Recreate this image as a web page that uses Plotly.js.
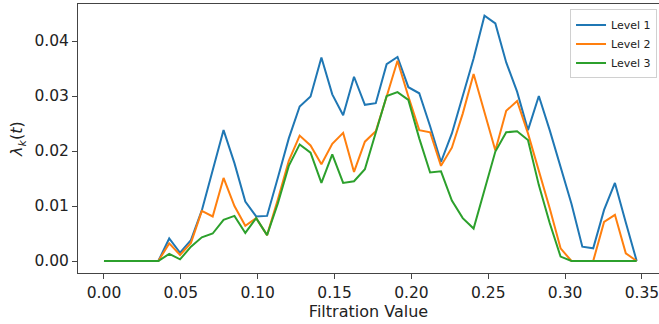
<!DOCTYPE html>
<html>
<head>
<meta charset="utf-8">
<script src="https://cdn.plot.ly/plotly-3.0.1.min.js"></script>
<style>html,body{margin:0;padding:0;background:#fff;}#chart{width:659px;height:324px;}</style>
</head>
<body>
<div id="chart"></div>
<script>
const filtration = [0, 0.00707, 0.01415, 0.02122, 0.02829, 0.03537, 0.04244, 0.04951, 0.05658, 0.06366,
  0.07073, 0.0778, 0.08488, 0.09195, 0.09902, 0.1061, 0.11317, 0.12024, 0.12731, 0.13439,
  0.14146, 0.14853, 0.15561, 0.16268, 0.16975, 0.17683, 0.1839, 0.19097, 0.19804, 0.20512,
  0.21219, 0.21926, 0.22634, 0.23341, 0.24048, 0.24756, 0.25463, 0.2617, 0.26877, 0.27585,
  0.28292, 0.28999, 0.29707, 0.30414, 0.31121, 0.31829, 0.32536, 0.33243, 0.3395, 0.34658];

const level1 = [0, 0, 0, 0, 0, 0, 0.0041, 0.0015, 0.0038, 0.0092,
  0.0165, 0.0238, 0.0178, 0.0108, 0.0081, 0.0082, 0.0152, 0.0223, 0.0281, 0.0299,
  0.0370, 0.0303, 0.0265, 0.0335, 0.0284, 0.0287, 0.0358, 0.0371, 0.0316, 0.0305,
  0.0245, 0.0180, 0.0232, 0.0300, 0.0368, 0.0446, 0.0432, 0.0361, 0.0308, 0.0238,
  0.0300, 0.0238, 0.0173, 0.0104, 0.0026, 0.0023, 0.0093, 0.0142, 0.0070, 0];

const level2 = [0, 0, 0, 0, 0, 0, 0.0032, 0.0011, 0.0033, 0.0091,
  0.0081, 0.0151, 0.0100, 0.0064, 0.0078, 0.0047, 0.0112, 0.0182, 0.0228, 0.0210,
  0.0176, 0.0213, 0.0233, 0.0162, 0.0217, 0.0236, 0.0299, 0.0364, 0.0299, 0.0238,
  0.0234, 0.0173, 0.0206, 0.0268, 0.0340, 0.0272, 0.0201, 0.0273, 0.0291, 0.0232,
  0.0165, 0.0096, 0.0023, 0, 0, 0, 0.0071, 0.0084, 0.0014, 0];

const level3 = [0, 0, 0, 0, 0, 0, 0.0013, 0.0003, 0.0026, 0.0043,
  0.0050, 0.0075, 0.0082, 0.0051, 0.0078, 0.0047, 0.0105, 0.0173, 0.0212, 0.0197,
  0.0142, 0.0194, 0.0142, 0.0145, 0.0167, 0.0232, 0.0300, 0.0307, 0.0293, 0.0223,
  0.0161, 0.0163, 0.0110, 0.0078, 0.0059, 0.0129, 0.0199, 0.0234, 0.0236, 0.0220,
  0.0138, 0.0069, 0.0008, 0, 0, 0, 0, 0, 0, 0];

const seriesNames = ["Level 1", "Level 2", "Level 3"];
const seriesColors = ["#1f77b4", "#ff7f0e", "#2ca02c"];
const xTicks = [0, 0.05, 0.10, 0.15, 0.20, 0.25, 0.30, 0.35];
const xTickText = ["0.00", "0.05", "0.10", "0.15", "0.20", "0.25", "0.30", "0.35"];
const yTicks = [0, 0.01, 0.02, 0.03, 0.04];
const yTickText = ["0.00", "0.01", "0.02", "0.03", "0.04"];

const allY = [level1, level2, level3];
const traces = allY.map((ys, k) => ({
  x: filtration, y: ys, type: "scatter", mode: "lines", name: seriesNames[k],
  line: {color: seriesColors[k], width: 2}
}));

const font = "DejaVu Sans, sans-serif";
const layout = {
  width: 659, height: 324,
  margin: {l: 78, r: 0, t: 4, b: 51},
  paper_bgcolor: "#fff", plot_bgcolor: "#fff",
  font: {family: font, size: 16, color: "#222"},
  showlegend: true,
  legend: {
    x: 0.9966, y: 0.98, xanchor: "right", yanchor: "top",
    bgcolor: "rgba(255,255,255,0.8)", bordercolor: "#d0d0d0", borderwidth: 1,
    font: {family: font, size: 11, color: "#222"},
    tracegroupgap: 0, itemwidth: 30
  },
  xaxis: {
    range: [-0.0169, 0.3611], tickvals: xTicks, ticktext: xTickText,
    ticklabeloverflow: "allow",
    showgrid: false, zeroline: false, showline: true, mirror: true,
    linecolor: "#444", linewidth: 1, ticks: "outside", ticklen: 5, tickcolor: "#444",
    tickfont: {family: font, size: 15.5, color: "#222"},
    title: {text: "Filtration Value", font: {family: font, size: 16, color: "#222"}, standoff: 4}
  },
  yaxis: {
    range: [-0.00218, 0.04673], tickvals: yTicks, ticktext: yTickText,
    showgrid: false, zeroline: false, showline: true, mirror: false,
    linecolor: "#444", linewidth: 1, ticks: "outside", ticklen: 5, tickcolor: "#444",
    tickfont: {family: font, size: 15.5, color: "#222"},
    title: {text: "<i>λ</i><sub><i>k</i></sub>(<i>t</i>)", font: {family: font, size: 16, color: "#222"}, standoff: 7}
  }
};

Plotly.newPlot("chart", traces, layout, {displayModeBar: false, staticPlot: true});
</script>
</body>
</html>
